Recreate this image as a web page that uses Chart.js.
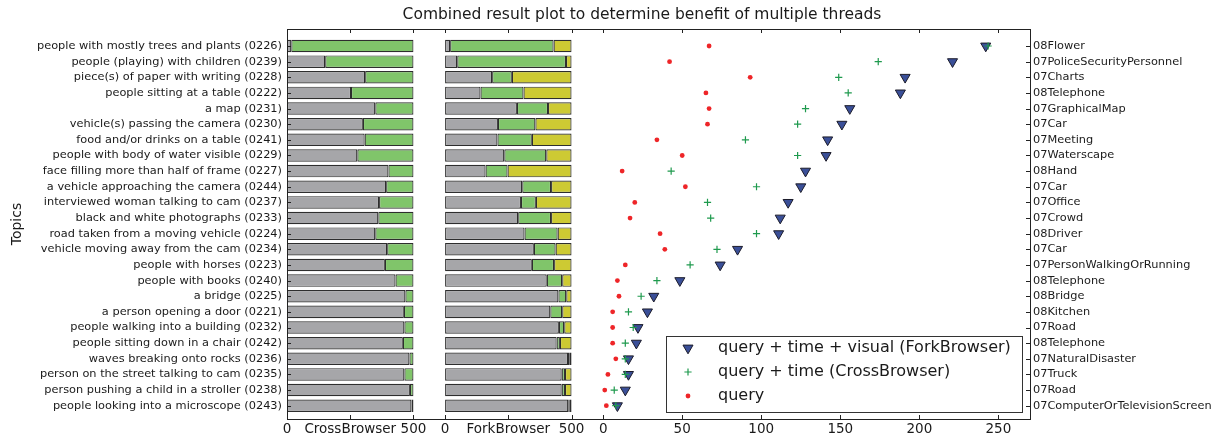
<!DOCTYPE html>
<html><head><meta charset="utf-8">
<script src="https://cdn.jsdelivr.net/npm/chart.js@4.4.1/dist/chart.umd.min.js"></script>
<style>html,body{margin:0;padding:0;background:#fff;}#wrap{width:1220px;height:439px;position:relative;}</style>
</head><body><div id="wrap"><canvas id="c" width="1220" height="439"></canvas></div>
<script>
// ---------- data ----------
const topics = [
  'people with mostly trees and plants (0226)',
  'people (playing) with children (0239)',
  'piece(s) of paper with writing (0228)',
  'people sitting at a table (0222)',
  'a map (0231)',
  'vehicle(s) passing the camera (0230)',
  'food and/or drinks on a table (0241)',
  'people with body of water visible (0229)',
  'face filling more than half of frame (0227)',
  'a vehicle approaching the camera (0244)',
  'interviewed woman talking to cam (0237)',
  'black and white photographs (0233)',
  'road taken from a moving vehicle (0224)',
  'vehicle moving away from the cam (0234)',
  'people with horses (0223)',
  'people with books (0240)',
  'a bridge (0225)',
  'a person opening a door (0221)',
  'people walking into a building (0232)',
  'people sitting down in a chair (0242)',
  'waves breaking onto rocks (0236)',
  'person on the street talking to cam (0235)',
  'person pushing a child in a stroller (0238)',
  'people looking into a microscope (0243)'
];
const concepts = [
  '08Flower','07PoliceSecurityPersonnel','07Charts','08Telephone','07GraphicalMap','07Car',
  '07Meeting','07Waterscape','08Hand','07Car','07Office','07Crowd','08Driver','07Car',
  '07PersonWalkingOrRunning','08Telephone','08Bridge','08Kitchen','07Road','08Telephone',
  '07NaturalDisaster','07Truck','07Road','07ComputerOrTelevisionScreen'
];
// CrossBrowser panel (segments per topic, out of 500)
const crossGray  = [17,151,309,253,349,300,307,278,401,392,364,361,349,396,387,429,468,462,464,458,484,464,486,492];
const crossGreen = [483,349,191,247,151,200,193,222,99,108,136,139,151,104,113,71,32,38,36,42,16,36,14,8];
// ForkBrowser panel (segments per topic, out of 500)
const forkGray   = [20,48,186,140,284,209,207,234,160,305,300,289,314,351,343,402,448,416,450,441,486,461,461,487];
const forkGreen  = [409,430,78,170,123,148,136,166,87,114,59,130,131,86,88,61,31,47,21,13,7,13,13,6];
const forkYellow = [71,22,236,190,93,143,157,100,253,81,141,81,55,63,69,37,21,37,29,46,7,26,26,7];
// scatter panel
const queryTimeVisual = [242,221,191,188,156,151,142,141,128,125,117,112,111,85,74,48.5,32,28,22,21,16,16,14,9];
const queryTime       = [243.5,174,149,155,128,123,90,123,43,97,66,68,97,72,55,34,24,16,19,14,14,14,7,8];
const queryOnly       = [67,42,93,65,67,66,34,50,12,52,20,17,36,39,14,9,10,6,6,6,8,3,1,2];
// ticks
const barTickValues   = [0,250,500];
const crossTickLabels = ['0','CrossBrowser','500'];
const forkTickLabels  = ['0','ForkBrowser','500'];
const scatterTicks    = [0,50,100,150,200,250];
const seriesNames = ['query + time + visual (ForkBrowser)','query + time (CrossBrowser)','query'];
const titleText = 'Combined result plot to determine benefit of multiple threads';
const yTitle = 'Topics';

// ---------- panel layout on one shared x axis ----------
const BAR_MAX = 500, PANEL_W = 80, CROSS_START = -200, FORK_START = -100;
const XMIN = -200, XMAX = 270;
const toX = (start, v) => start + v / BAR_MAX * PANEL_W;

function stackSegments(start, arrays) {
  const cum = topics.map(() => 0);
  return arrays.map(arr => arr.map((v, i) => {
    const a = cum[i]; cum[i] += v;
    return {x: [toX(start, a), toX(start, cum[i])], y: i};
  }));
}
const crossSegs = stackSegments(CROSS_START, [crossGray, crossGreen]);
const forkSegs  = stackSegments(FORK_START, [forkGray, forkGreen, forkYellow]);

const xTicks = [];
barTickValues.forEach((v, k) => xTicks.push({value: toX(CROSS_START, v), label: crossTickLabels[k]}));
barTickValues.forEach((v, k) => xTicks.push({value: toX(FORK_START, v), label: forkTickLabels[k]}));
scatterTicks.forEach(v => xTicks.push({value: v, label: String(v)}));

const GRAY = '#a6a6a9', GREEN = '#80c56a', YELLOW = '#cdca33', EDGE = '#2e2e2e';
const FONT = "'DejaVu Sans', 'Liberation Sans', sans-serif";

function barDs(data, color) {
  return {type: 'bar', indexAxis: 'y', data, backgroundColor: color, borderColor: EDGE,
    borderWidth: 1.2, borderSkipped: false, stack: 'bars', categoryPercentage: 0.8,
    barPercentage: 1.0, xAxisID: 'x', yAxisID: 'y', order: 10};
}
const pts = arr => arr.map((v, i) => ({x: v, y: i}));

const datasets = [
  barDs(crossSegs[0], GRAY), barDs(crossSegs[1], GREEN),
  barDs(forkSegs[0], GRAY), barDs(forkSegs[1], GREEN), barDs(forkSegs[2], YELLOW),
  {type: 'scatter', label: seriesNames[0], data: pts(queryTimeVisual), pointStyle: 'triangle', rotation: 180,
   radius: 5.8, backgroundColor: '#3a4f98', borderColor: '#1c1c2a', borderWidth: 1, xAxisID: 'x', yAxisID: 'y', order: 3},
  {type: 'scatter', label: seriesNames[1], data: pts(queryTime), pointStyle: 'cross',
   radius: 3.6, backgroundColor: '#1f9a4e', borderColor: '#1f9a4e', borderWidth: 1.2, xAxisID: 'x', yAxisID: 'y', order: 2},
  {type: 'scatter', label: seriesNames[2], data: pts(queryOnly), pointStyle: 'circle',
   radius: 2.4, backgroundColor: '#ee2528', borderColor: '#ee2528', borderWidth: 0, xAxisID: 'x', yAxisID: 'y', order: 1}
];

const rowTicks = s => { s.ticks = topics.map((_, i) => ({value: i})); };

const framePlugin = {
  id: 'frameTicks',
  afterDatasetsDraw(chart) {
    const {ctx, chartArea: a, scales: {x, y}} = chart;
    ctx.save();
    ctx.strokeStyle = '#222'; ctx.lineWidth = 1;
    ctx.beginPath();
    xTicks.forEach(t => {
      const px = Math.round(x.getPixelForValue(t.value)) + 0.5;
      ctx.moveTo(px, a.top); ctx.lineTo(px, a.top + 4);
      ctx.moveTo(px, a.bottom); ctx.lineTo(px, a.bottom - 4);
    });
    topics.forEach((_, i) => {
      const py = Math.round(y.getPixelForValue(i)) + 0.5;
      ctx.moveTo(a.left, py); ctx.lineTo(a.left + 4, py);
      ctx.moveTo(a.right, py); ctx.lineTo(a.right - 4, py);
    });
    ctx.stroke();
    ctx.strokeRect(Math.round(a.left) + 0.5, Math.round(a.top) + 0.5, Math.round(a.right - a.left), Math.round(a.bottom - a.top));
    ctx.restore();
  },
  afterDraw(chart) {
    const {ctx, chartArea: a} = chart;
    ctx.save();
    // title
    ctx.fillStyle = '#1a1a1a';
    ctx.font = '15.5px ' + FONT;
    ctx.textAlign = 'center'; ctx.textBaseline = 'middle';
    ctx.fillText(titleText, 642, 15);
    // legend
    const w = 356, h = 76;
    const right = a.right - 8, bottom = a.bottom - 7;
    const left = right - w, top = bottom - h;
    ctx.fillStyle = '#fff';
    ctx.fillRect(left, top, w, h);
    ctx.strokeStyle = '#333'; ctx.lineWidth = 1;
    ctx.strokeRect(Math.round(left) + 0.5, Math.round(top) + 0.5, w, h);
    const scatterDs = chart.data.datasets.filter(d => d.type === 'scatter');
    ctx.font = '16px ' + FONT;
    ctx.textAlign = 'left';
    scatterDs.forEach((d, k) => {
      const cy = top + 12 + k * 24, cx = left + 22;
      ctx.fillStyle = d.backgroundColor; ctx.strokeStyle = d.borderColor;
      ctx.lineWidth = d.borderWidth || 1;
      ctx.beginPath();
      if (d.pointStyle === 'triangle') {
        const r = d.radius;
        ctx.moveTo(cx - r * 0.866, cy - r * 0.5);
        ctx.lineTo(cx + r * 0.866, cy - r * 0.5);
        ctx.lineTo(cx, cy + r);
        ctx.closePath(); ctx.fill(); ctx.stroke();
      } else if (d.pointStyle === 'cross') {
        const r = d.radius;
        ctx.moveTo(cx - r, cy); ctx.lineTo(cx + r, cy);
        ctx.moveTo(cx, cy - r); ctx.lineTo(cx, cy + r);
        ctx.stroke();
      } else {
        ctx.arc(cx, cy, d.radius, 0, Math.PI * 2); ctx.fill();
      }
      ctx.fillStyle = '#1a1a1a';
      ctx.fillText(d.label, left + 52, cy);
    });
    ctx.restore();
  }
};

new Chart(document.getElementById('c'), {
  type: 'bar',
  data: {datasets},
  options: {
    responsive: false, animation: false, devicePixelRatio: 1,
    layout: {padding: {top: 29, left: 0, right: 0, bottom: 0}},
    plugins: {legend: {display: false}, tooltip: {enabled: false}, title: {display: false}},
    scales: {
      x: {
        type: 'linear', position: 'bottom', min: XMIN, max: XMAX, offset: false, stacked: false,
        grid: {display: false, drawTicks: false, offset: false}, border: {display: false},
        afterBuildTicks: s => { s.ticks = xTicks.map(t => ({value: t.value})); },
        afterFit: s => { s.height = 20; },
        ticks: {autoSkip: false, maxRotation: 0, minRotation: 0, padding: 2, color: '#1a1a1a',
          font: {family: FONT, size: 13.5},
          callback: v => { const t = xTicks.find(t => Math.abs(t.value - v) < 1e-6); return t ? t.label : ''; }}
      },
      y: {
        type: 'linear', position: 'left', reverse: true, min: -1.087, max: 23.85, offset: false,
        grid: {display: false, drawTicks: false, offset: false}, border: {display: false},
        afterBuildTicks: rowTicks,
        afterFit: s => { s.width = 287; },
        title: {display: true, text: yTitle, color: '#1a1a1a', font: {family: FONT, size: 14}, padding: {top: 9, bottom: 0}},
        ticks: {autoSkip: false, padding: 5, color: '#1a1a1a', font: {family: FONT, size: 11.35},
          callback: v => topics[v] ?? ''}
      },
      y2: {
        type: 'linear', position: 'right', reverse: true, min: -1.087, max: 23.85, offset: false,
        grid: {display: false, drawTicks: false, offset: false}, border: {display: false},
        afterBuildTicks: rowTicks,
        afterFit: s => { s.width = 190; },
        ticks: {autoSkip: false, padding: 3, color: '#1a1a1a', font: {family: FONT, size: 11.35},
          callback: v => concepts[v] ?? ''}
      }
    }
  },
  plugins: [framePlugin]
});
</script>
</body></html>
